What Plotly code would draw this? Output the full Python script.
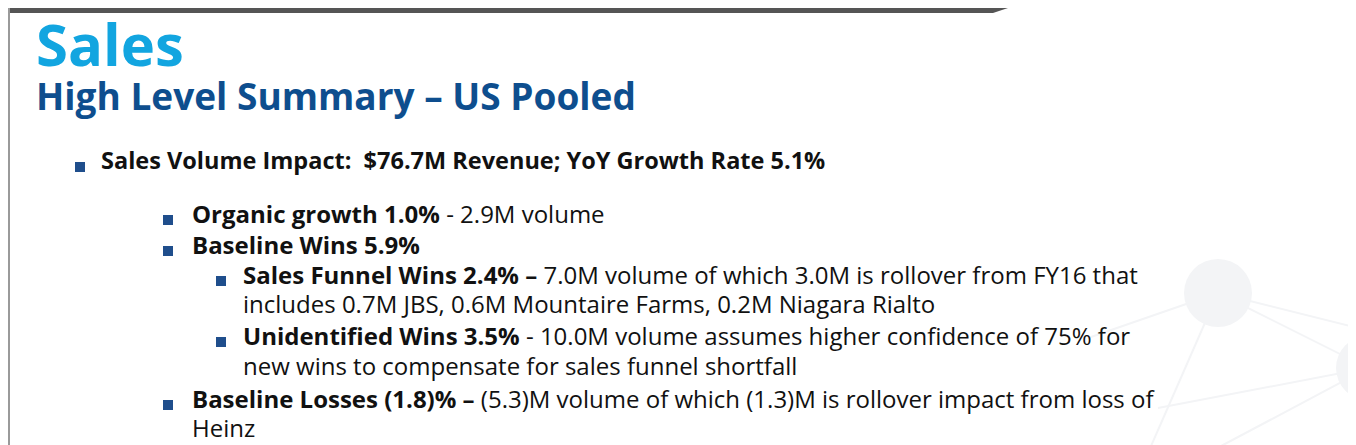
import plotly.graph_objects as go

title = "Sales"
subtitle = "High Level Summary – US Pooled"
line_levels = [1, 2, 2, 3, 0, 3, 0, 2, 0]
line_texts = [
    "<b>Sales Volume Impact:  $76.7M Revenue; YoY Growth Rate 5.1%</b>",
    "<b>Organic growth 1.0%</b> - 2.9M volume",
    "<b>Baseline Wins 5.9%</b>",
    "<b>Sales Funnel Wins 2.4% –</b> 7.0M volume of which 3.0M is rollover from FY16 that",
    "includes 0.7M JBS, 0.6M Mountaire Farms, 0.2M Niagara Rialto",
    "<b>Unidentified Wins 3.5%</b> - 10.0M volume assumes higher confidence of 75% for",
    "new wins to compensate for sales funnel shortfall",
    "<b>Baseline Losses (1.8)% –</b> (5.3)M volume of which (1.3)M is rollover impact from loss of",
    "Heinz",
]
line_y = [159, 212, 243, 273, 302, 334, 364, 397, 426]
line_x = [99, 190, 190, 241, 241, 241, 241, 190, 190]
bullet_x = {1: 72, 2: 160, 3: 213}

W, H = 1356, 445
FONT = "Open Sans"
DX, DY = -10, -7
fig = go.Figure()
fig.update_xaxes(range=[0, W], visible=False)
fig.update_yaxes(range=[H, 0], visible=False)

shapes = []
for (x0, y0, x1, y1) in [(1210, 285, 1360, 360), (1210, 285, 1080, 330), (1210, 285, 1140, 445),
                         (1360, 360, 1150, 400), (1360, 360, 1200, 445), (1210, 285, 1350, 320)]:
    shapes.append(dict(type="line", x0=x0, y0=y0, x1=x1, y1=y1, line=dict(color="#F3F4F6", width=2), layer="below"))
for (cx, cy, r) in [(1210, 285, 34), (1360, 360, 32)]:
    shapes.append(dict(type="circle", x0=cx - r, y0=cy - r, x1=cx + r, y1=cy + r,
                       fillcolor="#F3F4F6", line=dict(width=0), layer="below"))
shapes.append(dict(type="path", path="M 0 0 L 1000 0 L 985 5 L 0 5 Z", fillcolor="#555555", line=dict(width=0)))
shapes.append(dict(type="line", x0=1, y0=0, x1=1, y1=H, line=dict(color="#9a9a9a", width=2)))
shapes.append(dict(type="line", x0=1347, y0=50, x1=1347, y1=H, line=dict(color="#e6e6e6", width=2)))
shapes.append(dict(type="rect", x0=1350, y0=245, x1=1356, y1=268, fillcolor="#888888", line=dict(width=0)))

ann = [
    dict(x=36 + DX, y=40 + DY + 2, text=f"<b>{title}</b>", font=dict(family=FONT, size=58, color="#12A5E0")),
    dict(x=36 + DX, y=94 + DY, text=f"<b>{subtitle}</b>", font=dict(family=FONT, size=37, color="#0E4E8E")),
]
for lvl, txt, y, x in zip(line_levels, line_texts, line_y, line_x):
    if lvl:
        bx = bullet_x[lvl]
        shapes.append(dict(type="rect", x0=bx - 5, y0=y - 5, x1=bx + 5, y1=y + 5,
                           fillcolor="#1F4E8C", line=dict(width=0)))
    ann.append(dict(x=x + DX + 2, y=y + DY, text=txt,
                    font=dict(family=FONT, size=24 if lvl != 1 else 23.5, color="#111111")))
for a in ann:
    a.update(xref="x", yref="y", xanchor="left", yanchor="middle", showarrow=False)

fig.update_layout(width=W, height=H, margin=dict(l=0, r=0, t=0, b=0),
                  paper_bgcolor="white", plot_bgcolor="white",
                  shapes=shapes, annotations=ann, showlegend=False)
fig.write_html("out.html")
